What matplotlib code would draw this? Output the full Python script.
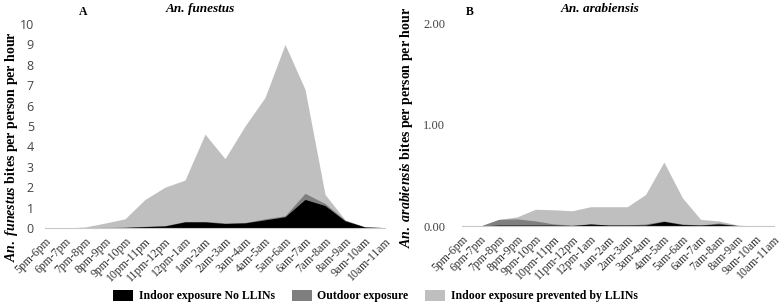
import matplotlib
matplotlib.use("Agg")
import matplotlib.pyplot as plt
from matplotlib.patches import Patch
import numpy as np

plt.rcParams['font.family'] = ['Liberation Serif', 'DejaVu Serif']
plt.rcParams['mathtext.fontset'] = 'custom'
plt.rcParams['mathtext.rm'] = 'Liberation Serif:bold'
plt.rcParams['mathtext.it'] = 'Liberation Serif:italic:bold'
plt.rcParams['mathtext.bf'] = 'Liberation Serif:bold'

hours = ["5pm-6pm", "6pm-7pm", "7pm-8pm", "8pm-9pm", "9pm-10pm", "10pm-11pm",
         "11pm-12pm", "12pm-1am", "1am-2am", "2am-3am", "3am-4am", "4am-5am",
         "5am-6am", "6am-7am", "7am-8am", "8am-9am", "9am-10am", "10am-11am"]

# An. funestus
fun_prevented = [0, 0, 0.05, 0.24, 0.45, 1.4, 2.0, 2.35, 4.6, 3.4, 5.0, 6.4,
                 9.0, 6.8, 1.65, 0.4, 0.05, 0.02]
fun_outdoor = [0, 0, 0.02, 0.03, 0.04, 0.08, 0.12, 0.32, 0.32, 0.25, 0.27, 0.45,
               0.6, 1.7, 1.2, 0.38, 0.05, 0.02]
fun_indoor = [0, 0, 0.01, 0.02, 0.03, 0.07, 0.1, 0.3, 0.3, 0.22, 0.25, 0.4,
              0.55, 1.4, 1.1, 0.35, 0.05, 0.02]

# An. arabiensis
ara_prevented = [0, 0, 0.065, 0.09, 0.165, 0.16, 0.15, 0.19, 0.19, 0.19, 0.31, 0.63,
                 0.28, 0.065, 0.05, 0.01, 0, 0]
ara_outdoor = [0, 0, 0.065, 0.07, 0.05, 0.02, 0.01, 0.02, 0.01, 0.01, 0.02, 0.05,
               0.02, 0.01, 0.03, 0.005, 0, 0]
ara_indoor = [0, 0, 0.01, 0.01, 0.01, 0.01, 0.005, 0.02, 0.01, 0.01, 0.01, 0.045,
              0.015, 0.01, 0.02, 0.005, 0, 0]

C_IN = '#000000'
C_OUT = '#7f7f7f'
C_PREV = '#bfbfbf'

fig = plt.figure(figsize=(7.84, 3.06), dpi=100)
axA = fig.add_axes([0.0574, 0.2549, 0.4337, 0.6667])
axB = fig.add_axes([0.5893, 0.2614, 0.3980, 0.6634])

x = np.arange(len(hours))

def draw(ax, prev, out, ind):
    ax.fill_between(x, 0, prev, color=C_PREV, lw=0)
    ax.fill_between(x, 0, out, color=C_OUT, lw=0)
    ax.fill_between(x, 0, ind, color=C_IN, lw=0)
    ax.set_xlim(0, len(hours) - 1)
    ax.set_xticks(x)
    ax.set_xticklabels(hours, rotation=45, ha='right', va='top', rotation_mode='anchor',
                       fontsize=8.5, color='#333333')
    for s in ['top', 'right', 'left']:
        ax.spines[s].set_visible(False)
    ax.spines['bottom'].set_color('#c8c8c8')
    ax.tick_params(axis='x', length=0, pad=5)
    ax.tick_params(axis='y', length=0)

draw(axA, fun_prevented, fun_outdoor, fun_indoor)
axA.set_ylim(0, 10)
axA.set_yticks(range(0, 11))
axA.set_yticklabels([str(v) for v in range(0, 11)], fontsize=9,
                    family='Open Sans', color='#444444')
axA.tick_params(axis='y', pad=8)

draw(axB, ara_prevented, ara_outdoor, ara_indoor)
axB.set_ylim(0, 2)
axB.set_yticks([0, 1, 2])
axB.set_yticklabels(['0.00', '1.00', '2.00'], fontsize=9, color='#444444')
axB.tick_params(axis='y', pad=12)

fig.text(12 / 784, 1 - 147 / 306, r'$An.$ $funestus$ bites per person per hour',
         rotation=90, fontsize=10, fontweight='bold', ha='center', va='center')
fig.text(406 / 784, 1 - 128 / 306, r'$An.$ $arabiensis$ bites per person per hour',
         rotation=90, fontsize=10, fontweight='bold', ha='center', va='center')

fig.text(83 / 784, 1 - 6 / 306, 'A', fontsize=8.5, fontweight='bold', va='top', ha='center')
fig.text(200 / 784, 1 - 3 / 306, 'An. funestus', fontsize=9.5, fontweight='bold',
         style='italic', va='top', ha='center')
fig.text(470 / 784, 1 - 6 / 306, 'B', fontsize=8.5, fontweight='bold', va='top', ha='center')
fig.text(600 / 784, 1 - 3 / 306, 'An. arabiensis', fontsize=9.5, fontweight='bold',
         style='italic', va='top', ha='center')

handles = [Patch(facecolor=C_IN, label='Indoor exposure No LLINs'),
           Patch(facecolor=C_OUT, label='Outdoor exposure'),
           Patch(facecolor=C_PREV, label='Indoor exposure prevented by LLINs')]
fig.legend(handles=handles, loc='center left', bbox_to_anchor=(113 / 784, 1 - 296 / 306),
           ncol=3, frameon=False, prop={'weight': 'bold', 'size': 8.5},
           handlelength=1.7, handleheight=1.1, columnspacing=1.4, handletextpad=0.5,
           borderpad=0, borderaxespad=0)

fig.savefig('out.png', dpi=100)
